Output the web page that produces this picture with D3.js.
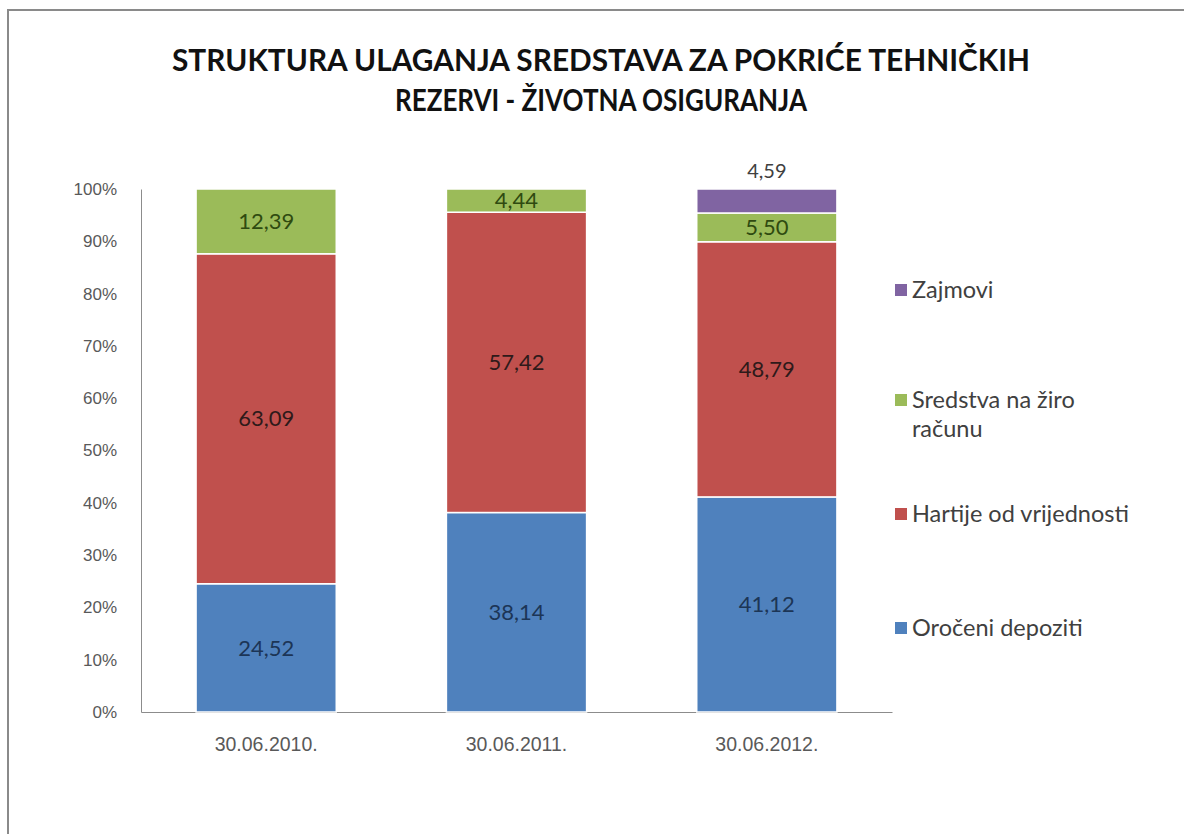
<!DOCTYPE html>
<html>
<head>
<meta charset="utf-8">
<script src="https://cdn.jsdelivr.net/npm/d3@7"></script>
<style>
  body { margin: 0; background: #fff; }
  svg { display: block; font-family: Lato, "Open Sans", sans-serif; }
</style>
</head>
<body>
<svg id="chart" width="1184" height="834"></svg>
<script>
// chart data
const categories = ['30.06.2010.', '30.06.2011.', '30.06.2012.'];
const seriesNames = ['Oročeni depoziti', 'Hartije od vrijednosti', 'Sredstva na žiro računu', 'Zajmovi'];
const orocen = [24.52, 38.14, 41.12];
const hartije = [63.09, 57.42, 48.79];
const sredstva = [12.39, 4.44, 5.50];
const zajmovi = [0, 0, 4.59];
const yTicks = [0, 10, 20, 30, 40, 50, 60, 70, 80, 90, 100];
const titleLines = ['STRUKTURA ULAGANJA SREDSTAVA ZA POKRIĆE TEHNIČKIH', 'REZERVI - ŽIVOTNA OSIGURANJA'];

const colors = ['#4f81bd', '#c0504d', '#9bbb59', '#8064a2'];
const labelColors = ['#1c3556', '#2e1a1a', '#2f4a10', '#404040'];

const svg = d3.select('#chart');

// outer frame
svg.append('rect')
  .attr('x', 8).attr('y', 10)
  .attr('width', 1190).attr('height', 840)
  .attr('fill', 'none')
  .attr('stroke', '#8a8a8a')
  .attr('stroke-width', 2);

// title (squeezed to the width of the original narrow font)
svg.selectAll('.title')
  .data(titleLines)
  .enter()
  .append('text')
  .attr('class', 'title')
  .attr('x', 601)
  .attr('y', (d, i) => 71 + i * 40)
  .attr('text-anchor', 'middle')
  .attr('font-size', 31)
  .attr('font-weight', 'bold')
  .attr('fill', '#111')
  .attr('textLength', (d, i) => i === 0 ? 858 : 412)
  .attr('lengthAdjust', 'spacingAndGlyphs')
  .text(d => d);

const margin = { left: 141, top: 189, right: 892, bottom: 712 };

const x = d3.scaleBand()
  .domain(categories)
  .range([margin.left, margin.right])
  .paddingInner(0.44)
  .paddingOuter(0.22);

const y = d3.scaleLinear()
  .domain([0, 100])
  .range([margin.bottom, margin.top]);

const rows = categories.map((c, i) => ({
  cat: c, s0: orocen[i], s1: hartije[i], s2: sredstva[i], s3: zajmovi[i]
}));
const keys = ['s0', 's1', 's2', 's3'];
const stacked = d3.stack().keys(keys)(rows);

// y axis
const yAxis = svg.append('g')
  .attr('transform', `translate(${margin.left},0)`)
  .call(d3.axisLeft(y).tickValues(yTicks).tickSize(0).tickPadding(24).tickFormat(d => d + '%'));
yAxis.select('.domain').attr('stroke', '#8c8c8c');
yAxis.selectAll('text').attr('font-size', 17).attr('fill', '#595959');

// x axis
const xAxis = svg.append('g')
  .attr('transform', `translate(0,${margin.bottom})`)
  .call(d3.axisBottom(x).tickSize(0).tickPadding(25));
xAxis.select('.domain').attr('stroke', '#8c8c8c');
xAxis.selectAll('text').attr('font-size', 19.5).attr('fill', '#595959');

// bars
const layers = svg.selectAll('.layer')
  .data(stacked)
  .enter()
  .append('g')
  .attr('class', 'layer')
  .attr('fill', (d, i) => colors[i]);

layers.selectAll('rect')
  .data(d => d.filter(p => p[1] - p[0] > 0))
  .enter()
  .append('rect')
  .attr('x', d => x(d.data.cat))
  .attr('y', d => y(d[1]))
  .attr('width', x.bandwidth())
  .attr('height', d => y(d[0]) - y(d[1]))
  .attr('stroke', '#fff')
  .attr('stroke-width', 1.5);

// data labels
stacked.forEach((layer, li) => {
  layer.filter(p => p[1] - p[0] > 0).forEach(p => {
    const v = p[1] - p[0];
    const outside = li === 3;
    svg.append('text')
      .attr('x', x(p.data.cat) + x.bandwidth() / 2)
      .attr('y', outside ? y(p[1]) - 18 : y((p[0] + p[1]) / 2))
      .attr('dy', '0.35em')
      .attr('text-anchor', 'middle')
      .attr('font-size', outside ? 20 : 22)
      .attr('fill', labelColors[li])
      .text(d3.format('.2f')(v).replace('.', ','));
  });
});

// legend
const legendOrder = [3, 2, 1, 0];
const legendY = [290, 400, 514, 628];
legendOrder.forEach((si, k) => {
  const g = svg.append('g').attr('transform', `translate(895,${legendY[k]})`);
  g.append('rect')
    .attr('x', 0).attr('y', -6)
    .attr('width', 12).attr('height', 12)
    .attr('fill', colors[si]);
  const words = si === 2 ? ['Sredstva na žiro', 'računu'] : [seriesNames[si]];
  g.selectAll('text')
    .data(words)
    .enter()
    .append('text')
    .attr('x', 17)
    .attr('y', (d, i) => i * 29)
    .attr('dy', '0.35em')
    .attr('font-size', 23.5)
    .attr('fill', '#404040')
    .text(d => d);
});
</script>
</body>
</html>
